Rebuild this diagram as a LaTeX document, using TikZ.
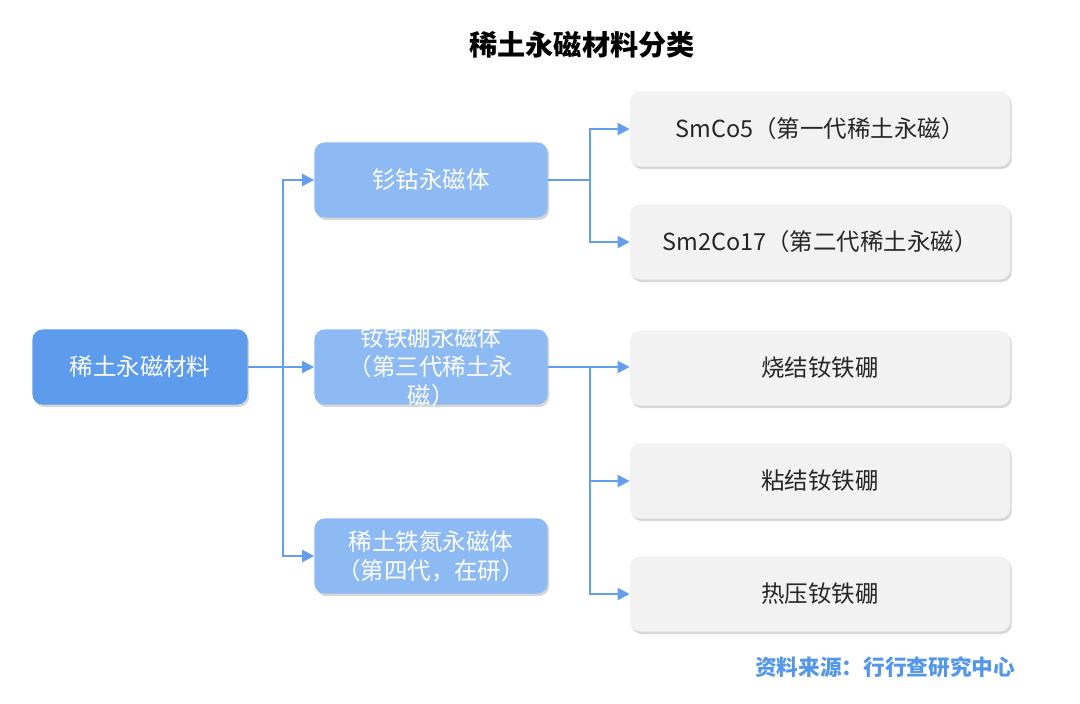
\documentclass[tikz,border=0pt]{standalone}
\usepackage{fontspec}
\setmainfont{Noto Sans CJK SC}
\usepackage{tikz}
\usetikzlibrary{arrows.meta,shadows}

\definecolor{rootblue}{RGB}{93,155,236}
\definecolor{midblue}{RGB}{142,186,243}
\definecolor{leafgray}{RGB}{242,242,242}
\definecolor{linkblue}{RGB}{98,158,235}
\definecolor{srcblue}{RGB}{84,150,232}

\begin{document}
\begin{tikzpicture}[x=0.025cm, y=-0.025cm,
	box/.style={rounded corners=0.25cm, minimum height=1.875cm, align=center,
		font=\fontsize{16.7pt}{20.6pt}\selectfont,
		drop shadow={shadow xshift=1.2pt, shadow yshift=-1.8pt, opacity=0.35, fill=black!45}},
	rootbox/.style={box, fill=rootblue, text=white, minimum width=5.375cm},
	midbox/.style={box, fill=midblue, text=white, minimum width=5.825cm},
	leafbox/.style={box, fill=leafgray, text=black!85, minimum width=9.5cm},
	link/.style={draw=linkblue, line width=1.4pt, -{Triangle[length=8.5pt, width=8.5pt]}}]
	\useasboundingbox (0,0) rectangle (1080,704);

	%% Title and source
	\node at (582,45) (title) {\fontsize{20pt}{24pt}\selectfont\bfseries 稀土永磁材料分类};
	\node [anchor=east, text=srcblue] at (1020,667) (src) {\fontsize{15.4pt}{19pt}\selectfont\bfseries 资料来源：行行查研究中心};

	%% Root and second level
	\node at (140,367) [rootbox] (root) {稀土永磁材料};		% Root
	\node at (431,180) [midbox] (smco) {钐钴永磁体};
	\node at (431,367) [midbox] (ndfeb) {};			% text overflows, set on top
	\node at (ndfeb) [align=center, text=white, inner sep=0pt,
		font=\fontsize{16.7pt}{20.6pt}\selectfont] (ndfebtxt) {钕铁硼永磁体\\（第三代稀土永\\磁）};
	\node at (431,556) [midbox] (rfen) {稀土铁氮永磁体\\（第四代，在研）};

	%% Third level
	\node at (820,129) [leafbox] (smcofive) {SmCo5（第一代稀土永磁）};
	\node at (820,242) [leafbox] (smcoseventeen) {Sm2Co17（第二代稀土永磁）};
	\node at (820,368) [leafbox] (sinter) {烧结钕铁硼};
	\node at (820,481) [leafbox] (bond) {粘结钕铁硼};
	\node at (820,594) [leafbox] (hotpress) {热压钕铁硼};

	%% Junctions
	\coordinate (jroot) at (283,367);
	\coordinate (jsmco) at (590,180);
	\coordinate (jndfeb) at (590,367);

	%% Connectors
	\draw [link] (root.east) -- (ndfeb.west);
	\draw [link] (jroot) |- (smco.west);
	\draw [link] (jroot) |- (rfen.west);
	\draw [link, -] (smco.east) -- (jsmco);
	\draw [link] (jsmco) |- (smcofive.west);
	\draw [link] (jsmco) |- (smcoseventeen.west);
	\draw [link] (ndfeb.east) -- (sinter.west |- ndfeb.east);
	\draw [link] (jndfeb) |- (bond.west);
	\draw [link] (jndfeb) |- (hotpress.west);
\end{tikzpicture}
\end{document}
